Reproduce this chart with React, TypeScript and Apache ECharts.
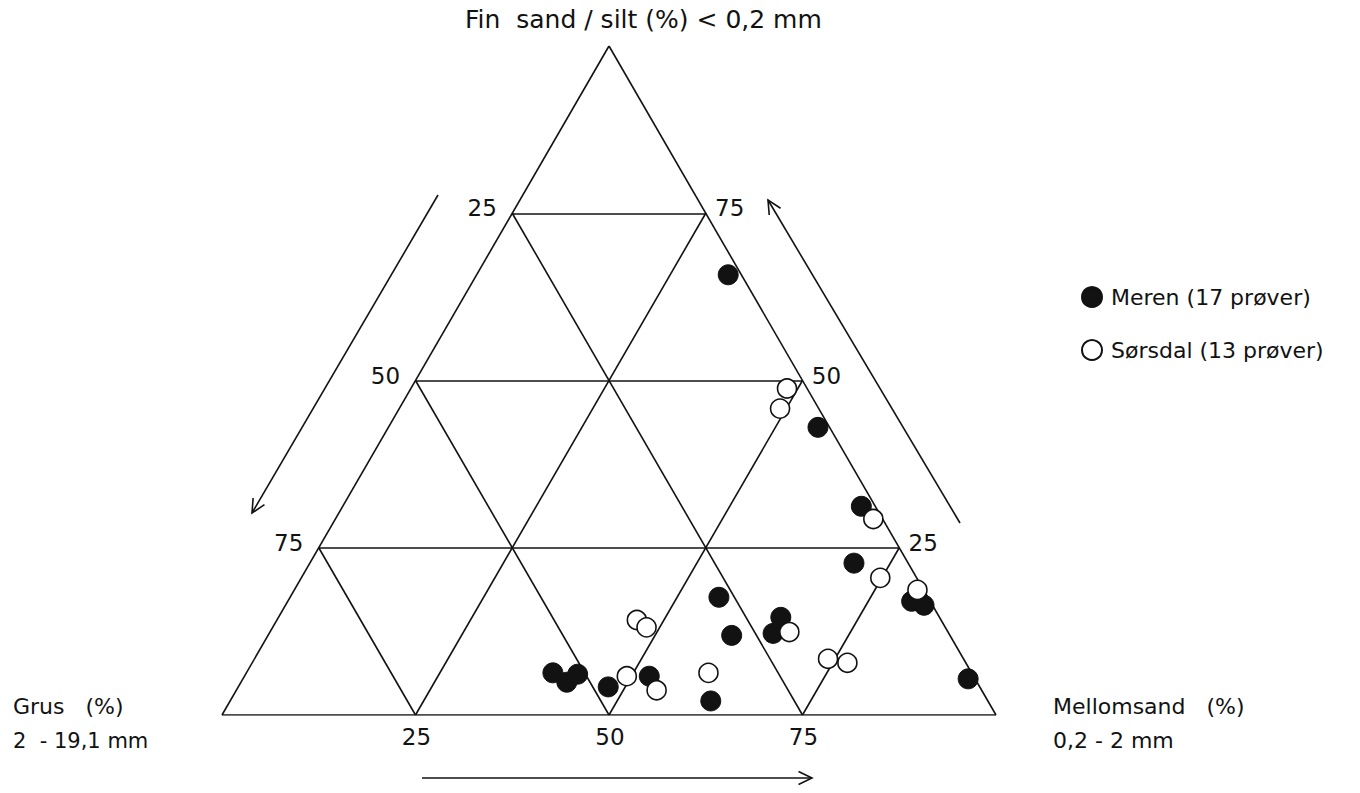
import React, { useEffect, useRef } from "react";
import * as echarts from "echarts";

// Ternary tick values (%)
const tickValues = [25, 50, 75];

// Meren (filled): mellomsand % and fin sand/silt % (grus = 100 - both)
const merenMellomsand = [39.6, 42.1, 42.9, 47.8, 52.3, 62.1, 55.4, 59.9, 64.9, 65.1, 55.5, 67.0, 70.3, 80.6, 82.5, 93.7, 32.5];
const merenFinsand = [6.3, 4.9, 6.1, 4.2, 5.8, 2.1, 17.6, 11.9, 14.6, 12.2, 43.0, 31.2, 22.7, 17.0, 16.4, 5.4, 65.8];

// Sørsdal (open): mellomsand % and fin sand/silt %
const sorsdalMellomsand = [49.4, 46.5, 48.3, 54.3, 59.7, 67.1, 48.6, 49.2, 69.5, 74.8, 80.5, 74.1, 76.9];
const sorsdalFinsand = [5.8, 14.2, 13.1, 3.7, 6.3, 12.4, 48.8, 45.8, 29.3, 20.5, 18.7, 8.4, 7.8];

const seriesNames = ["Meren (17 prøver)", "Sørsdal (13 prøver)"];

const FONT = "DejaVu Sans";
const INK = "#121212";
const H = Math.sqrt(3) / 2;

// ternary (mellomsand, fin) -> cartesian data coordinates
const toXY = (m: number, f: number): [number, number] => [m + f / 2, f * H];

function arrow(from: [number, number], to: [number, number], len = 15, ang = 26) {
  const dx = from[0] - to[0];
  const dy = from[1] - to[1];
  const d = Math.hypot(dx, dy);
  const ux = dx / d, uy = dy / d;
  const a = (ang * Math.PI) / 180;
  const rot = (s: number): [number, number] => [
    to[0] + len * (ux * Math.cos(s * a) - uy * Math.sin(s * a)),
    to[1] + len * (ux * Math.sin(s * a) + uy * Math.cos(s * a)),
  ];
  const style = { stroke: INK, lineWidth: 1.6, fill: null as any };
  return [
    { type: "line", shape: { x1: from[0], y1: from[1], x2: to[0], y2: to[1] }, style },
    { type: "polyline", shape: { points: [rot(1), to, rot(-1)] }, style },
  ];
}

export default function App() {
  const ref = useRef<HTMLDivElement>(null);
  useEffect(() => {
    if (!ref.current) return;
    const chart = echarts.init(ref.current, undefined, { renderer: "svg" });

    type Seg = [[number, number], [number, number]];
    const segs: Seg[] = [
      [[0, 0], [100, 0]],
      [[100, 0], [0, 100]],
      [[0, 100], [0, 0]],
    ];
    tickValues.forEach((v) => {
      segs.push([[0, v], [100 - v, v]]); // fin sand constant
      segs.push([[v, 0], [v, 100 - v]]); // mellomsand constant
      segs.push([[100 - v, 0], [0, 100 - v]]); // grus constant
    });

    const tickLabelSeries = (
      pts: { m: number; f: number; text: number }[],
      offset: [number, number]
    ) => ({
      type: "scatter",
      silent: true,
      symbol: "circle",
      symbolSize: 0.01,
      itemStyle: { color: INK, opacity: 1 },
      data: pts.map((p) => ({ value: [...toXY(p.m, p.f), p.text] })),
      label: {
        show: true,
        position: "inside",
        offset,
        formatter: (p: any) => String(p.value[2]),
        fontFamily: FONT,
        fontSize: 23,
        color: INK,
        opacity: 1,
        textBorderWidth: 0,
      },
      z: 5,
    });

    const textStyle = (x: number, y: number, text: string, size = 21) => ({
      type: "text",
      left: x,
      top: y,
      style: { text, fontFamily: FONT, fontSize: size, fill: INK },
    });

    chart.setOption({
      animation: false,
      backgroundColor: "#ffffff",
      grid: { left: 222, top: 46, width: 774, height: 669, containLabel: false },
      xAxis: { type: "value", min: 0, max: 100, show: false },
      yAxis: { type: "value", min: 0, max: 100 * H, show: false },
      legend: {
        data: seriesNames,
        orient: "vertical",
        left: 1076,
        top: 281,
        itemGap: 31,
        itemWidth: 20,
        itemHeight: 20,
        icon: "circle",
        textStyle: { fontFamily: FONT, fontSize: 22, color: INK, padding: [0, 0, 0, 4] },
      },
      series: [
        {
          type: "lines",
          coordinateSystem: "cartesian2d",
          silent: true,
          data: segs.map((s) => ({ coords: [toXY(s[0][0], s[0][1]), toXY(s[1][0], s[1][1])] })),
          lineStyle: { color: INK, width: 1.6, opacity: 1 },
          z: 1,
        },
        tickLabelSeries(tickValues.map((g) => ({ m: 0, f: 100 - g, text: g })), [-30, -5]),
        tickLabelSeries(tickValues.map((f) => ({ m: 100 - f, f, text: f })), [24, -5]),
        tickLabelSeries(tickValues.map((m) => ({ m, f: 0, text: m })), [1, 22]),
        {
          name: seriesNames[0],
          type: "scatter",
          symbol: "circle",
          symbolSize: 20,
          data: merenMellomsand.map((m, i) => toXY(m, merenFinsand[i])),
          itemStyle: { color: INK, borderColor: INK, borderWidth: 1, opacity: 1 },
          z: 3,
        },
        {
          name: seriesNames[1],
          type: "scatter",
          symbol: "circle",
          symbolSize: 19,
          data: sorsdalMellomsand.map((m, i) => toXY(m, sorsdalFinsand[i])),
          itemStyle: { color: "#ffffff", borderColor: INK, borderWidth: 1.6, opacity: 1 },
          z: 4,
        },
      ],
      graphic: [
        textStyle(465, 7, "Fin  sand / silt (%) < 0,2 mm", 25),
        textStyle(13, 695, "Grus   (%)", 22),
        textStyle(13, 730, "2  - 19,1 mm", 21),
        textStyle(1053, 695, "Mellomsand   (%)", 22),
        textStyle(1053, 729, "0,2 - 2 mm", 22),
        ...arrow([438, 195], [252, 513]),
        ...arrow([960, 523], [768, 200]),
        ...arrow([422, 778], [812, 778]),
      ],
    });
    return () => chart.dispose();
  }, []);
  return (
    <div
      ref={ref}
      style={{ position: "absolute", left: 0, top: 0, width: 1360, height: 793, background: "#fff" }}
    />
  );
}
